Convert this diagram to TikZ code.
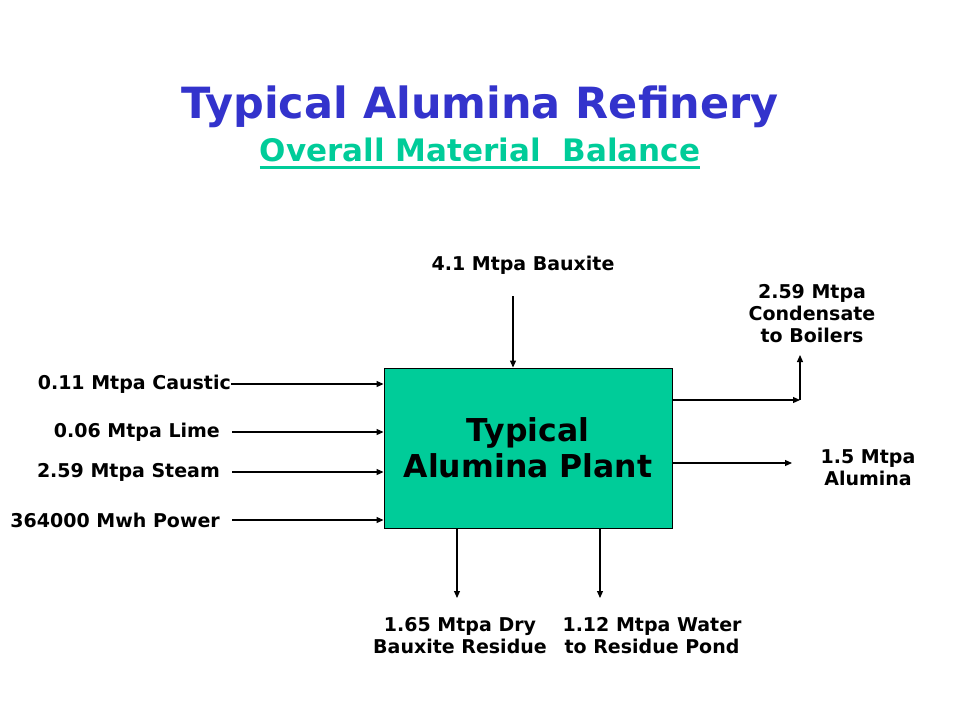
\documentclass[tikz,border=0pt]{standalone}
\usepackage{fontspec}
\setmainfont{DejaVu Sans}
\usetikzlibrary{arrows.meta}
\definecolor{ttlblue}{HTML}{3333CC}
\definecolor{plantgreen}{HTML}{00CC99}
\begin{document}
\begin{tikzpicture}[x=1pt,y=-1pt,
  lbl/.style={font=\fontsize{19}{22}\selectfont\bfseries, inner sep=0pt, align=center},
  arr/.style={line width=1.1pt, -{Triangle[length=7pt,width=6pt]}},
  plantbox/.style={draw=black, line width=0.9pt, fill=plantgreen, minimum width=288pt, minimum height=160pt, inner sep=0pt, align=center, font=\fontsize{31.5}{36}\selectfont\bfseries}]
\useasboundingbox[fill=white] (0,0) rectangle (960,720);
% titles
\node[font=\fontsize{43}{48}\selectfont\bfseries, text=ttlblue, inner sep=0pt] (title) at (480,107) {Typical Alumina Refinery};
\node[font=\fontsize{31}{34}\selectfont\bfseries, text=plantgreen, inner sep=0pt] (sub) at (480,150) {Overall Material\ \ Balance};
\draw[plantgreen, line width=3pt] ([yshift=-5.5pt]sub.base west) -- ([yshift=-5.5pt]sub.base east);
% plant
\node[plantbox] (plant) at (528,448) {Typical\\Alumina Plant};
% labels
\node[lbl] (baux) at (523,265) {4.1 Mtpa Bauxite};
\node[lbl] (cond) at (812,314) {2.59 Mtpa\\Condensate\\to Boilers};
\node[lbl] (alum) at (868,468) {1.5 Mtpa\\Alumina};
\node[lbl] (dry) at (460,636) {1.65 Mtpa Dry\\Bauxite Residue};
\node[lbl] (water) at (652,636) {1.12 Mtpa Water\\to Residue Pond};
\node[lbl, anchor=east] (caus) at (231,384) {0.11 Mtpa Caustic};
\node[lbl, anchor=east] (lime) at (220,432) {0.06 Mtpa Lime};
\node[lbl, anchor=east] (steam) at (220,472) {2.59 Mtpa Steam};
\node[lbl, anchor=east] (power) at (220,520) {364000 Mwh Power};
% connector points
\coordinate (l2) at (232,432);
\coordinate (l3) at (232,472);
\coordinate (l4) at (232,520);
\coordinate (b0) at (513,296);
\coordinate (c1) at (800,400);
\coordinate (c2) at (800,355);
\coordinate (a1) at (792,463);
\coordinate (d1) at (457,598);
\coordinate (d2) at (600,598);
% arrows
\draw[arr] (caus.east) -- (caus.east -| plant.west);
\draw[arr] (l2) -- (l2 -| plant.west);
\draw[arr] (l3) -- (l3 -| plant.west);
\draw[arr] (l4) -- (l4 -| plant.west);
\draw[arr] (b0) -- (b0 |- plant.north);
\draw[arr] (c1 -| plant.east) -- (c1);
\draw[arr] (c1) -- (c2);
\draw[arr] (a1 -| plant.east) -- (a1);
\draw[arr] (d1 |- plant.south) -- (d1);
\draw[arr] (d2 |- plant.south) -- (d2);
\end{tikzpicture}
\end{document}
